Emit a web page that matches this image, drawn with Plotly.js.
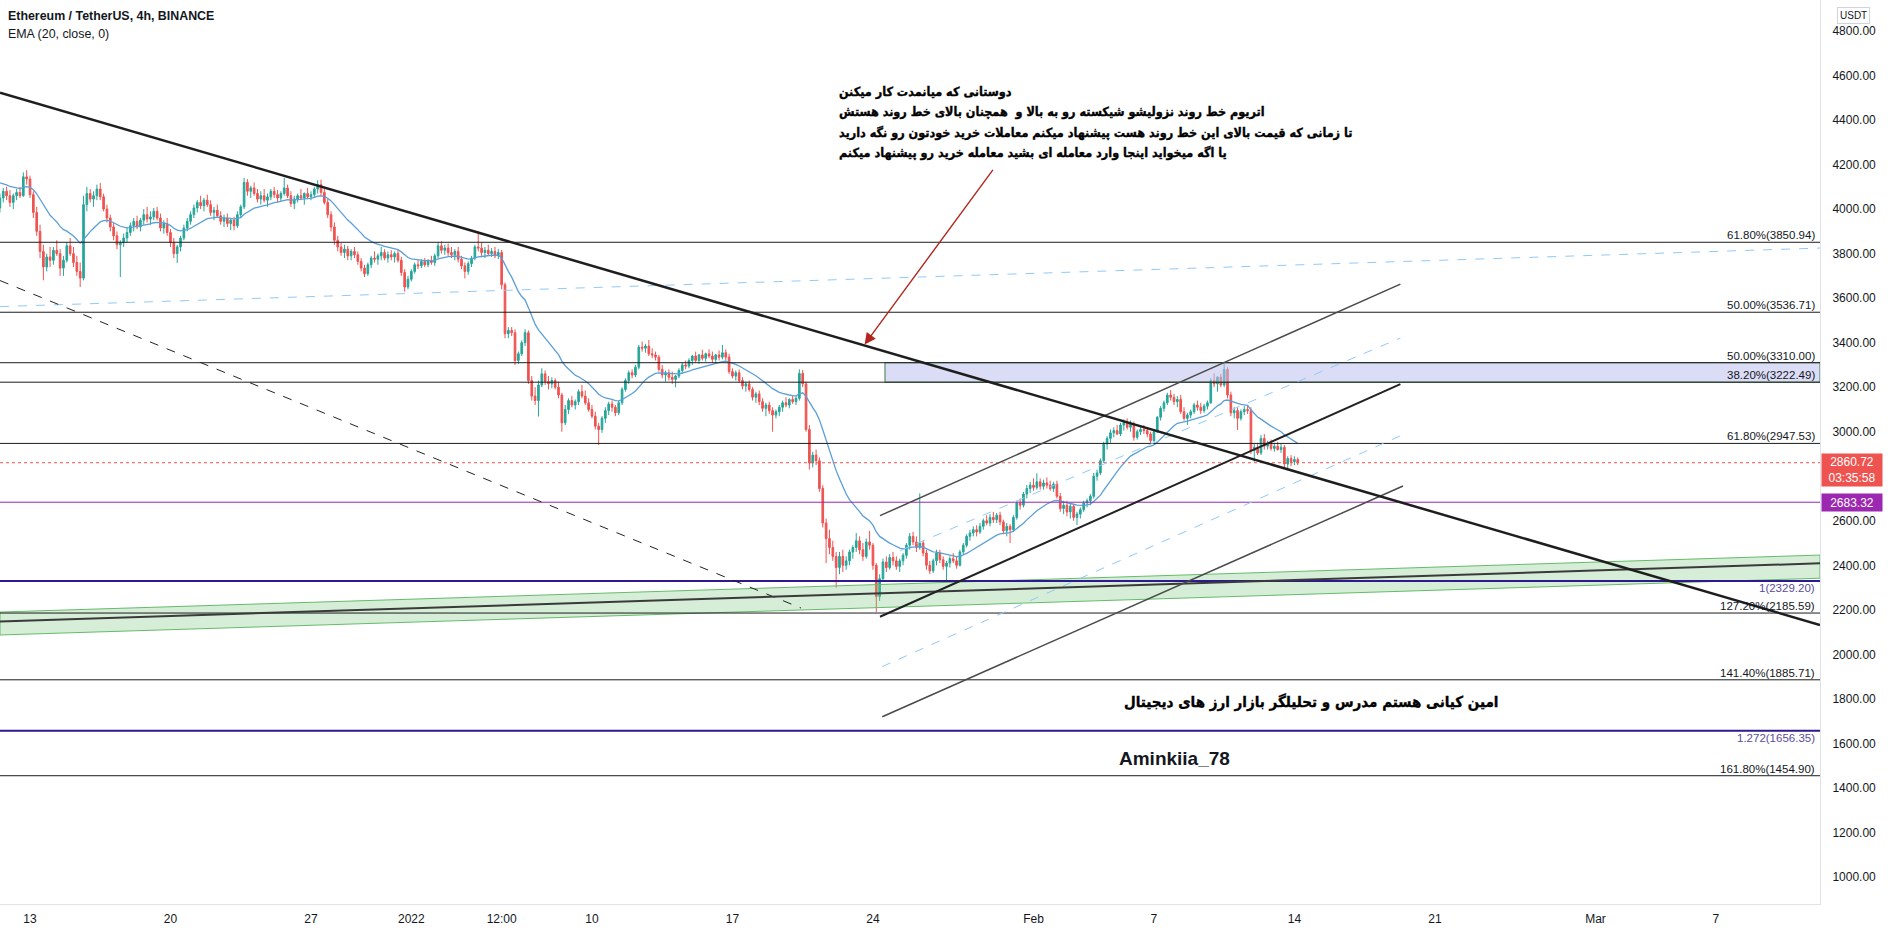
<!DOCTYPE html>
<html>
<head>
<meta charset="utf-8">
<script src="https://cdn.plot.ly/plotly-3.0.1.min.js"></script>
<style>
html,body{margin:0;padding:0;background:#fff;}
#chart{width:1888px;height:932px;}
</style>
</head>
<body>
<div id="chart"></div>
<script>
// ---------- DATA ----------
// ETH/USDT 4h candles, first bar 2021-12-11 12:00, one bar every 4 hours
const firstBarTime = '2021-12-11T12:00:00Z';
const firstOpen = 4005;
const closes = [
4050,4080,4060,
4030,4060,4075,4060,4145,4135,
4065,3985,3900,3810,3740,3785,
3770,3815,3800,3735,3770,3835,
3800,3760,3720,3690,4020,4070,
4045,4060,4090,4055,4000,3960,
3920,3880,3840,3850,3870,3895,
3925,3945,3920,3950,3975,3955,
3965,3990,3960,3915,3935,3895,
3850,3800,3830,3870,3915,3945,
3975,4005,4030,4015,4040,4020,
3985,3995,3970,3945,3960,3935,
3950,3925,3975,4010,4120,4080,
4095,4070,4045,4060,4040,4055,
4080,4065,4050,4070,4095,4060,
4025,4045,4060,4050,4070,4055,
4065,4090,4110,4075,4030,3975,
3920,3860,3830,3805,3820,3790,
3810,3795,3765,3735,3710,3750,
3780,3775,3790,3805,3780,3795,
3785,3800,3770,3715,3650,3685,
3720,3750,3745,3765,3750,3770,
3760,3790,3835,3815,3825,3805,
3795,3810,3775,3745,3720,3755,
3780,3830,3825,3805,3815,3800,
3810,3790,3805,3660,3440,3455,
3445,3320,3350,3400,3445,3230,
3160,3140,3210,3260,3225,3215,
3230,3200,3165,3040,3100,3140,
3120,3135,3180,3160,3130,3100,
3070,3025,3010,3060,3095,3125,
3110,3085,3130,3190,3230,3265,
3255,3290,3380,3375,3385,3350,
3345,3335,3280,3255,3265,3245,
3235,3250,3275,3300,3295,3320,
3340,3320,3345,3330,3350,3340,
3325,3345,3335,3355,3335,3270,
3250,3265,3230,3205,3215,3190,
3155,3170,3135,3105,3120,3095,
3075,3090,3110,3130,3120,3145,
3135,3150,3262,3215,3010,2860,
2895,2870,2745,2590,2520,2480,
2440,2390,2440,2400,2420,2460,
2480,2510,2470,2440,2505,2490,
2400,2260,2340,2415,2390,2435,
2420,2395,2420,2445,2490,2530,
2505,2480,2500,2455,2400,2375,
2420,2455,2425,2395,2410,2430,
2420,2400,2460,2490,2530,2545,
2560,2550,2575,2600,2590,2615,
2605,2625,2595,2555,2575,2560,
2615,2680,2670,2720,2745,2760,
2750,2775,2755,2770,2760,2745,
2765,2710,2655,2670,2640,2665,
2615,2630,2650,2680,2690,2710,
2800,2815,2870,2945,2970,2995,
3005,2990,3030,3045,3020,3035,
2975,3000,3010,3005,2990,2960,
3000,3065,3105,3130,3165,3155,
3135,3145,3090,3060,3075,3090,
3120,3110,3095,3115,3130,3230,
3215,3245,3210,3280,3165,3085,
3095,3060,3090,3100,3095,2915,
2930,2905,2970,2935,2950,2925,
2935,2920,2930,2855,2880,2865,
2875,2860.72];
const highs = [
4070,4095,4100,
4085,4070,4090,4100,4165,4175,
4150,4080,4010,3930,3840,3800,
3830,3830,3860,3820,3790,3850,
3870,3830,3790,3760,4060,4100,
4090,4080,4110,4117,4070,4020,
3975,3940,3900,3860,3890,3920,
3940,3960,3970,3960,4000,4010,
3990,4005,4010,3980,3950,3960,
3910,3870,3840,3880,3930,3960,
3990,4020,4040,4060,4050,4065,
4040,4010,4020,3990,3975,3980,
3960,3965,3990,4020,4140,4135,
4105,4120,4090,4080,4090,4070,
4090,4100,4085,4080,4140,4110,
4080,4060,4070,4090,4075,4095,
4080,4100,4130,4132,4090,4045,
3990,3940,3880,3850,3840,3835,
3820,3830,3810,3780,3750,3760,
3790,3810,3800,3830,3820,3810,
3815,3810,3815,3786,3730,3700,
3730,3760,3770,3775,3780,3775,
3790,3800,3850,3855,3840,3845,
3830,3820,3830,3790,3760,3765,
3790,3840,3899,3850,3830,3840,
3825,3830,3820,3816,3670,3470,
3470,3460,3360,3410,3460,3455,
3250,3200,3230,3285,3275,3250,
3245,3240,3225,3175,3120,3150,
3160,3145,3190,3210,3185,3150,
3120,3090,3040,3070,3110,3135,
3140,3120,3140,3200,3240,3275,
3280,3300,3390,3405,3395,3412,
3375,3360,3345,3300,3275,3280,
3270,3255,3285,3310,3320,3330,
3345,3360,3350,3368,3355,3370,
3360,3350,3365,3390,3370,3350,
3285,3275,3280,3245,3225,3230,
3200,3180,3185,3150,3130,3135,
3110,3100,3120,3140,3155,3150,
3165,3160,3280,3277,3225,3030,
2910,2920,2885,2760,2610,2560,
2510,2460,2460,2470,2440,2470,
2490,2545,2530,2500,2520,2555,
2500,2410,2360,2430,2440,2450,
2460,2440,2430,2455,2500,2545,
2550,2530,2723,2510,2470,2420,
2430,2470,2470,2440,2420,2440,
2455,2440,2470,2500,2540,2560,
2575,2580,2590,2610,2625,2630,
2640,2635,2640,2605,2590,2585,
2625,2690,2700,2730,2760,2775,
2790,2813,2790,2785,2795,2780,
2775,2780,2725,2690,2690,2680,
2675,2640,2660,2690,2700,2720,
2815,2830,2880,2955,2980,3010,
3020,3030,3040,3055,3060,3050,
3045,3010,3025,3030,3020,3000,
3010,3070,3115,3140,3175,3187,
3170,3160,3165,3110,3085,3100,
3130,3140,3130,3125,3140,3240,
3262,3250,3260,3305,3290,3180,
3110,3110,3100,3115,3120,3110,
2950,2950,2985,2990,2960,2965,
2950,2955,2945,2940,2890,2895,
2890,2885];
const lows = [
3985,4030,4040,
4010,4000,4040,4050,4055,4110,
4050,3960,3880,3780,3680,3720,
3740,3750,3790,3700,3700,3760,
3790,3740,3700,3650,3680,3990,
4030,4010,4040,4040,3990,3940,
3900,3860,3820,3695,3830,3850,
3880,3900,3910,3900,3930,3940,
3930,3950,3950,3900,3890,3880,
3830,3780,3758,3810,3860,3900,
3930,3960,3985,4000,3990,4010,
3970,3950,3960,3930,3920,3920,
3905,3905,3915,3960,4000,4060,
4050,4060,4030,4020,4030,4010,
4040,4050,4030,4035,4060,4050,
4010,4000,4030,4040,4020,4045,
4040,4050,4070,4060,4020,3960,
3900,3840,3810,3790,3780,3770,
3770,3780,3750,3720,3695,3700,
3735,3760,3750,3770,3770,3760,
3770,3760,3760,3700,3629,3640,
3675,3710,3730,3735,3740,3740,
3750,3745,3780,3800,3795,3790,
3780,3770,3760,3730,3689,3705,
3740,3770,3810,3790,3780,3790,
3785,3780,3775,3640,3420,3420,
3430,3300,3305,3340,3385,3215,
3140,3120,3068,3200,3210,3190,
3195,3190,3150,3000,3030,3080,
3110,3100,3120,3150,3120,3090,
3060,3010,2940,2995,3040,3075,
3090,3070,3075,3120,3180,3215,
3240,3245,3280,3360,3355,3340,
3330,3320,3270,3240,3225,3230,
3215,3200,3240,3260,3280,3285,
3300,3310,3305,3320,3315,3330,
3310,3305,3320,3325,3320,3260,
3240,3230,3220,3190,3180,3180,
3140,3130,3120,3090,3070,3080,
3000,3060,3070,3090,3110,3105,
3125,3120,3140,3200,3000,2830,
2840,2850,2730,2570,2410,2450,
2420,2300,2360,2370,2380,2400,
2430,2460,2450,2420,2430,2470,
2380,2190,2240,2330,2370,2380,
2400,2380,2370,2400,2430,2470,
2490,2460,2470,2440,2380,2360,
2365,2400,2410,2380,2327,2390,
2410,2385,2395,2450,2480,2510,
2530,2530,2540,2560,2580,2575,
2590,2590,2580,2540,2530,2500,
2550,2605,2650,2660,2700,2725,
2735,2740,2740,2740,2745,2735,
2730,2700,2640,2630,2620,2610,
2600,2581,2610,2640,2660,2670,
2700,2780,2805,2860,2920,2950,
2975,2985,2980,3005,3010,3000,
2960,2965,2985,2990,2975,2945,
2955,2995,3050,3090,3120,3140,
3120,3110,3080,3050,3030,3060,
3080,3095,3080,3085,3100,3125,
3200,3180,3200,3200,3150,3070,
3060,3008,3050,3075,3080,2900,
2865,2895,2895,2920,2920,2915,
2910,2915,2905,2840,2835,2845,
2850,2850];
const emaLength = 20;
const emaSeed = 4125;            // EMA value just before the first visible bar

// Fibonacci / level lines
const fibPrices = [3850.94, 3536.71, 3310.00, 3222.49, 2947.53, 2185.59, 1885.71, 1454.90];
const fibLabels = ['61.80%(3850.94)','50.00%(3536.71)','50.00%(3310.00)','38.20%(3222.49)','61.80%(2947.53)','127.20%(2185.59)','141.40%(1885.71)','161.80%(1454.90)'];
const extPrices = [2329.20, 1656.35];
const extLabels = ['1(2329.20)','1.272(1656.35)'];
const alertPrice = 2683.32;
const lastPrice = 2860.72;
const countdown = '03:35:58';
const zoneTop = 3310.00, zoneBottom = 3222.49, zoneStart = '2022-01-24 14:24';

// drawn lines: [time0, price0, time1, price1]
const mainTrend   = ['2021-12-11 12:07', 4523, '2022-03-12 04:30', 2132];
const oldTrend    = ['2021-12-11 12:07', 3679, '2022-01-20 10:00', 2208];
const blueTop     = ['2021-12-11 12:07', 3562, '2022-03-12 04:30', 3825];
const chanUpper   = ['2022-01-24 08:27', 2623, '2022-02-19 06:43', 3663];
const chanMid     = ['2022-01-24 08:27', 2169, '2022-02-19 06:43', 3214];
const chanLower   = ['2022-01-24 11:11', 1720, '2022-02-19 09:50', 2756];
const blueMid     = ['2022-01-25 08:21', 2466, '2022-02-19 06:43', 3421];
const blueLow     = ['2022-01-24 11:00', 1945, '2022-02-19 09:50', 2987];
const bandTop     = ['2021-12-11 12:07', 2190, '2022-03-12 04:30', 2446];
const bandBottom  = ['2021-12-11 12:07', 2087, '2022-03-12 04:30', 2342];
const bandMiddle  = ['2021-12-11 12:07', 2148, '2022-03-12 04:30', 2409];
const arrowLine   = ['2022-01-30 00:46', 4183, '2022-01-23 14:01', 3392];

// axes
const xRange = ['2021-12-11 12:07', '2022-03-12 04:30'];
const yRange = [878.7, 4939.2];
const xTickVals = ['2021-12-13','2021-12-20','2021-12-27','2022-01-01','2022-01-05 12:00','2022-01-10','2022-01-17','2022-01-24','2022-02-01','2022-02-07','2022-02-14','2022-02-21','2022-03-01','2022-03-07'];
const xTickText = ['13','20','27','2022','12:00','10','17','24','Feb','7','14','21','Mar','7'];
// 2800.00 is hidden behind the last-price tag in the reference
const yTickVals = [1000,1200,1400,1600,1800,2000,2200,2400,2600,3000,3200,3400,3600,3800,4000,4200,4400,4600,4800];

// texts
const titleText = 'Ethereum / TetherUS, 4h, BINANCE';
const emaText = 'EMA (20, close, 0)';
const noteLines = [
 'دوستانی که میانمدت کار میکنن',
 'اتریوم خط روند نزولیشو شیکسته رو به بالا و  همچنان بالای خط روند هستش',
 'تا زمانی که قیمت بالای این خط روند هست پیشنهاد میکنم معاملات خرید خودتون رو نگه دارید',
 'یا اگه میخواید اینجا وارد معامله ای بشید معامله خرید رو پیشنهاد میکنم'
];
const authorText = 'امین کیانی هستم مدرس و تحلیلگر بازار ارز های دیجیتال';
const handleText = 'Aminkiia_78';

// ---------- BUILD ----------
const t0 = Date.parse(firstBarTime);
const times = closes.map((_, i) => new Date(t0 + i * 4 * 3600 * 1000).toISOString().slice(0,16).replace('T',' '));
const opens = [firstOpen].concat(closes.slice(0, -1));
const alpha = 2 / (emaLength + 1);
let prev = emaSeed;
const ema = closes.map(c => (prev = alpha * c + (1 - alpha) * prev));

const traces = [
  { type:'scatter', mode:'lines', hoverinfo:'skip',
    x:[bandTop[0], bandTop[2], bandBottom[2], bandBottom[0], bandTop[0]],
    y:[bandTop[1], bandTop[3], bandBottom[3], bandBottom[1], bandTop[1]],
    fill:'toself', fillcolor:'rgba(129,199,132,0.32)', line:{color:'#66bb6a', width:1} },
  { type:'candlestick', x:times, open:opens, high:highs, low:lows, close:closes, hoverinfo:'skip',
    increasing:{line:{color:'#26a69a', width:1}, fillcolor:'#26a69a'},
    decreasing:{line:{color:'#ef5350', width:1}, fillcolor:'#ef5350'}, whiskerwidth:0 },
  { type:'scatter', mode:'lines', x:times, y:ema, hoverinfo:'skip', line:{color:'#5b9fd9', width:1.3} }
];

const shapes = [];
function seg(d, color, width, dash){
  shapes.push({type:'line', xref:'x', yref:'y', x0:d[0], y0:d[1], x1:d[2], y1:d[3], line:{color:color, width:width, dash:dash||'solid'}});
}
// zone
shapes.push({type:'rect', xref:'x', yref:'y', x0:zoneStart, x1:xRange[1], y0:zoneBottom, y1:zoneTop,
  fillcolor:'rgba(190,192,236,0.55)', line:{color:'#3f7d4a', width:1}});
// horizontal levels
fibPrices.forEach(p => shapes.push({type:'line', xref:'paper', x0:0, x1:1, yref:'y', y0:p, y1:p, line:{color:'#1c1c1c', width:1}}));
extPrices.forEach(p => shapes.push({type:'line', xref:'paper', x0:0, x1:1, yref:'y', y0:p, y1:p, line:{color:'#2e1a8e', width:2}}));
shapes.push({type:'line', xref:'paper', x0:0, x1:1, yref:'y', y0:alertPrice, y1:alertPrice, line:{color:'#9c27b0', width:1}});
shapes.push({type:'line', xref:'paper', x0:0, x1:1, yref:'y', y0:lastPrice, y1:lastPrice, line:{color:'#ef5350', width:1, dash:'dot'}});
// trend lines
seg(blueTop, '#90caf9', 1, 'dash');
seg(blueMid, '#90caf9', 1, 'dash');
seg(blueLow, '#90caf9', 1, 'dash');
seg(oldTrend, '#222', 1, 'dash');
seg(bandMiddle, '#3a3a3a', 2);
seg(chanUpper, '#4a4a4a', 1.5);
seg(chanLower, '#4a4a4a', 1.5);
seg(chanMid, '#222', 2);
seg(mainTrend, '#1e1e1e', 2.5);

const lblFont = {family:'Liberation Sans, Arial, sans-serif', size:11.5, color:'#131722'};
const annotations = [];
fibPrices.forEach((p, i) => annotations.push({xref:'paper', x:0.998, xanchor:'right', yref:'y', y:p, yanchor:'bottom',
  text:fibLabels[i], showarrow:false, font:lblFont, borderpad:0}));
extPrices.forEach((p, i) => annotations.push({xref:'paper', x:0.998, xanchor:'right', yref:'y', y:p, yanchor:'top',
  text:extLabels[i], showarrow:false, font:{family:lblFont.family, size:11.5, color:'#5b4b9c'}, borderpad:0}));
// axis price tags
annotations.push({xref:'paper', x:1, xanchor:'left', xshift:1, yref:'y', y:lastPrice, yanchor:'top', yshift:10,
  text:lastPrice.toFixed(2) + '<br>' + countdown, showarrow:false, bgcolor:'#ef5350', width:58, height:30, align:'center',
  font:{family:'Liberation Sans, Arial, sans-serif', size:12, color:'#ffffff'}});
annotations.push({xref:'paper', x:1, xanchor:'left', xshift:1, yref:'y', y:alertPrice, yanchor:'middle',
  text:alertPrice.toFixed(2), showarrow:false, bgcolor:'#9c27b0', width:58, height:15, align:'center',
  font:{family:'Liberation Sans, Arial, sans-serif', size:12, color:'#ffffff'}});
annotations.push({xref:'paper', x:1.0093, xanchor:'left', yref:'paper', y:0.9834, yanchor:'middle', text:'USDT', showarrow:false,
  bordercolor:'#d1d4dc', borderwidth:1, borderpad:2, bgcolor:'#fff', font:{family:'Liberation Sans, Arial, sans-serif', size:10, color:'#131722'}});
// header
annotations.push({xref:'paper', x:0.0035, xanchor:'left', yref:'paper', y:0.9823, yanchor:'middle', text:'<b>'+titleText+'</b>', showarrow:false,
  font:{family:'Liberation Sans, Arial, sans-serif', size:12.4, color:'#131722'}});
annotations.push({xref:'paper', x:0.0035, xanchor:'left', yref:'paper', y:0.9629, yanchor:'middle', text:emaText, showarrow:false,
  font:{family:'Liberation Sans, Arial, sans-serif', size:12.4, color:'#131722'}});
// Persian note
const noteY = [0.8988, 0.8761, 0.8534, 0.8308];
noteLines.forEach((t, i) => annotations.push({xref:'paper', x:0.4599, xanchor:'left', yref:'paper', y:noteY[i], yanchor:'middle',
  text:'<b>'+t+'</b>', showarrow:false, align:'left', font:{family:'DejaVu Sans Condensed, DejaVu Sans, sans-serif', size:12.5, color:'#000000'}}));
annotations.push({xref:'paper', x:0.6165, xanchor:'left', yref:'paper', y:0.2235, yanchor:'middle', text:'<b>'+authorText+'</b>', showarrow:false,
  font:{family:'DejaVu Sans Condensed, DejaVu Sans, sans-serif', size:15, color:'#000000'}});
annotations.push({xref:'paper', x:0.6137, xanchor:'left', yref:'paper', y:0.1608, yanchor:'middle', text:'<b>'+handleText+'</b>', showarrow:false,
  font:{family:'Liberation Sans, Arial, sans-serif', size:19, color:'#131722'}});
// red arrow
annotations.push({xref:'x', yref:'y', axref:'x', ayref:'y', x:arrowLine[2], y:arrowLine[3], ax:arrowLine[0], ay:arrowLine[1],
  text:'', showarrow:true, arrowhead:2, arrowsize:1.6, arrowwidth:1.4, arrowcolor:'#b3261e'});

const layout = {
  width:1888, height:932,
  margin:{l:0, r:68, t:0, b:28, pad:0},
  paper_bgcolor:'#ffffff', plot_bgcolor:'#ffffff',
  showlegend:false, dragmode:false,
  xaxis:{type:'date', range:xRange, showgrid:false, zeroline:false, showline:true, linecolor:'#e0e3eb', linewidth:1,
    tickmode:'array', tickvals:xTickVals, ticktext:xTickText, ticks:'', ticklabelstandoff:4,
    tickfont:{family:'Liberation Sans, Arial, sans-serif', size:12, color:'#131722'},
    rangeslider:{visible:false}, fixedrange:true},
  yaxis:{side:'right', range:yRange, showgrid:false, zeroline:false, showline:true, linecolor:'#e0e3eb', linewidth:1,
    tickmode:'array', tickvals:yTickVals, tickformat:'.2f', ticks:'', ticklabelstandoff:9,
    tickfont:{family:'Liberation Sans, Arial, sans-serif', size:12, color:'#131722'}, fixedrange:true},
  shapes:shapes, annotations:annotations
};
Plotly.newPlot('chart', traces, layout, {staticPlot:true, displayModeBar:false}).then(() => {
  // heavier strokes for the Persian notes, like the reference's bold Arabic face
  document.querySelectorAll('#chart g.annotation text').forEach(el => {
    if (/[\u0600-\u06FF]/.test(el.textContent)) {
      el.style.stroke = '#000'; el.style.strokeWidth = '0.35px'; el.style.paintOrder = 'stroke';
    }
  });
});
</script>
</body>
</html>
